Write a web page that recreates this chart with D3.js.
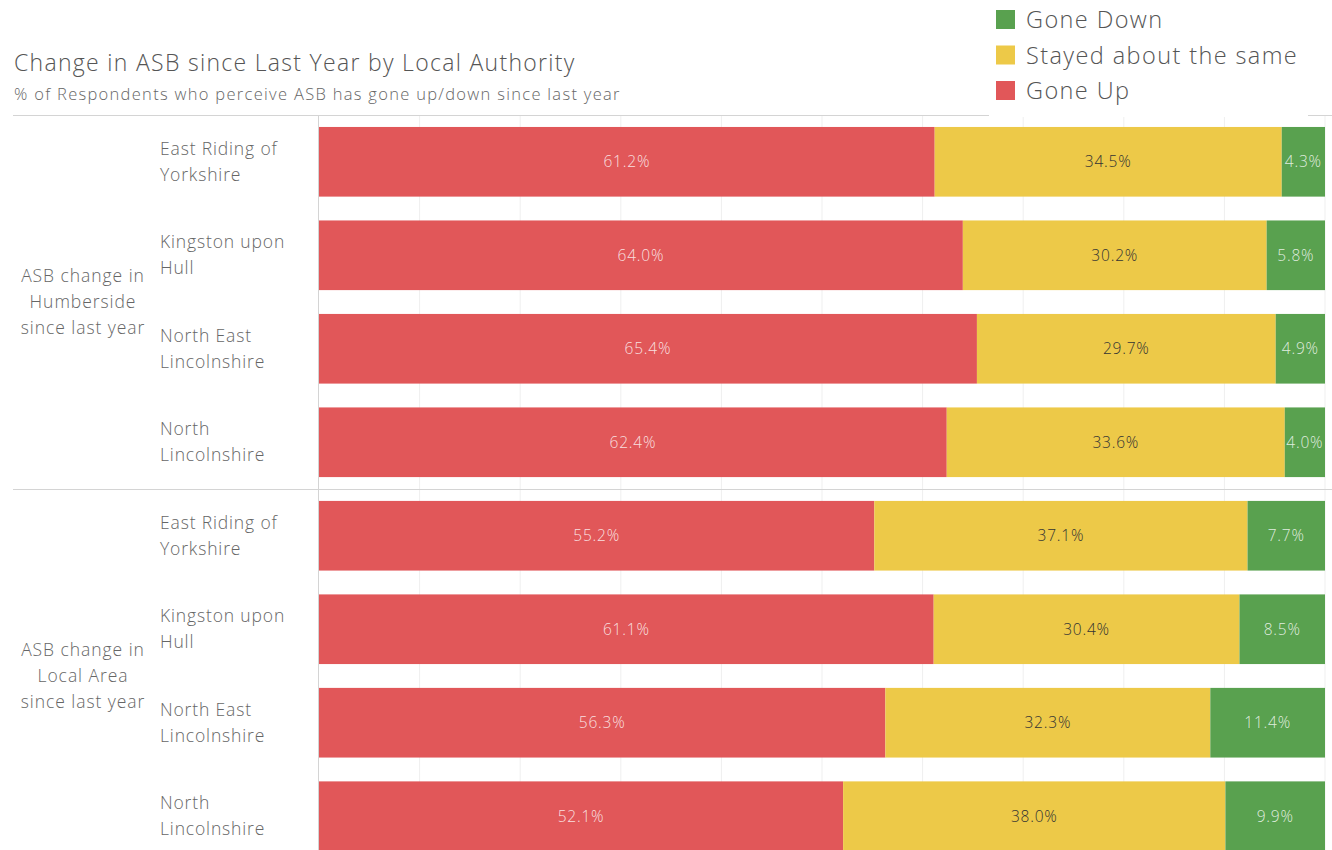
<!DOCTYPE html>
<html>
<head>
<meta charset="utf-8">
<script src="https://cdn.jsdelivr.net/npm/d3@7"></script>
<style>
  html, body { margin: 0; padding: 0; background: #fff; }
  svg { display: block; font-family: "Open Sans", Lato, sans-serif; font-weight: 300; }
</style>
</head>
<body>
<svg id="chart"></svg>
<script>
// data
const groups = ['Humberside', 'Local Area'];
const groupLabels = [
  ['ASB change in', 'Humberside', 'since last year'],
  ['ASB change in', 'Local Area', 'since last year']
];
const regions = ['East Riding of Yorkshire', 'Kingston upon Hull', 'North East Lincolnshire', 'North Lincolnshire'];
const regionLines = [
  ['East Riding of', 'Yorkshire'],
  ['Kingston upon', 'Hull'],
  ['North East', 'Lincolnshire'],
  ['North', 'Lincolnshire']
];
const series = ['Gone Up', 'Stayed about the same', 'Gone Down'];
const goneUp = [61.2, 64.0, 65.4, 62.4, 55.2, 61.1, 56.3, 52.1];
const stayed = [34.5, 30.2, 29.7, 33.6, 37.1, 30.4, 32.3, 38.0];
const goneDown = [4.3, 5.8, 4.9, 4.0, 7.7, 8.5, 11.4, 9.9];
const xTicks = [0, 10, 20, 30, 40, 50, 60, 70, 80, 90, 100];

const colors = {
  'Gone Up': '#e15759',
  'Stayed about the same': '#edc948',
  'Gone Down': '#59a14f'
};
const labelColors = {
  'Gone Up': 'rgba(255,255,255,0.82)',
  'Stayed about the same': '#333',
  'Gone Down': 'rgba(255,255,255,0.82)'
};

const width = 1332;
const height = 850;
const svg = d3.select('#chart').attr('width', width).attr('height', height);

const rows = [];
groups.forEach((g, gi) => {
  regions.forEach((r, ri) => {
    const i = gi * regions.length + ri;
    rows.push({
      key: g + '|' + r, group: g, gi, ri,
      'Gone Up': goneUp[i],
      'Stayed about the same': stayed[i],
      'Gone Down': goneDown[i]
    });
  });
});

const topY = 115;
const plotLeft = 319;
const plotRight = 1325;
const panelH = 374;

const x = d3.scaleLinear().domain([0, 100]).range([plotLeft, plotRight]);
const y = d3.scaleBand().domain(rows.map(d => d.key))
  .range([topY, topY + panelH * 2]).paddingInner(0.255).paddingOuter(0.128);

// title
svg.append('text').attr('x', 14).attr('y', 71)
  .attr('font-size', 23).attr('fill', '#555').attr('letter-spacing', 1.3)
  .text('Change in ASB since Last Year by Local Authority');
svg.append('text').attr('x', 14).attr('y', 100)
  .attr('font-size', 16.5).attr('fill', '#666').attr('letter-spacing', 1.3)
  .text('% of Respondents who perceive ASB has gone up/down since last year');

// grid
svg.append('g').selectAll('line')
  .data(xTicks.slice(1))
  .join('line')
  .attr('x1', d => x(d)).attr('x2', d => x(d))
  .attr('y1', topY).attr('y2', height)
  .attr('stroke', '#efefef').attr('stroke-width', 1);

// panel separators
svg.append('g').selectAll('line')
  .data([0, 1])
  .join('line')
  .attr('x1', 13).attr('x2', width)
  .attr('y1', d => topY + d * panelH + 0.5).attr('y2', d => topY + d * panelH + 0.5)
  .attr('stroke', '#d4d4d4');

svg.append('line')
  .attr('x1', plotLeft - 0.5).attr('x2', plotLeft - 0.5)
  .attr('y1', topY).attr('y2', height)
  .attr('stroke', '#d4d4d4');

// bars
const stack = d3.stack().keys(series);
const stacked = stack(rows);

const layer = svg.append('g').selectAll('g')
  .data(stacked)
  .join('g')
  .attr('fill', d => colors[d.key]);

layer.selectAll('rect')
  .data(d => d.map(v => ({ key: d.key, v })))
  .join('rect')
  .attr('x', d => x(d.v[0]))
  .attr('width', d => x(d.v[1]) - x(d.v[0]))
  .attr('y', d => y(d.v.data.key))
  .attr('height', y.bandwidth());

layer.selectAll('text')
  .data(d => d.map(v => ({ key: d.key, v })))
  .join('text')
  .attr('x', d => (x(d.v[0]) + x(d.v[1])) / 2)
  .attr('y', d => y(d.v.data.key) + y.bandwidth() / 2)
  .attr('dy', '0.35em')
  .attr('text-anchor', 'middle')
  .attr('font-size', 15.5)
  .attr('letter-spacing', 0.8)
  .attr('fill', d => labelColors[d.key])
  .text(d => d.v.data[d.key].toFixed(1) + '%');

// region labels
const rowLab = svg.append('g').selectAll('text')
  .data(rows)
  .join('text')
  .attr('font-size', 17.5).attr('fill', '#666').attr('letter-spacing', 0.85)
  .attr('y', d => y(d.key) + y.bandwidth() / 2);
rowLab.selectAll('tspan')
  .data(d => regionLines[d.ri].map((t, k, a) => ({ t, k, n: a.length })))
  .join('tspan')
  .attr('x', 160)
  .attr('dy', d => d.k === 0 ? ((-(d.n - 1) / 2) * 26 + 6) + 'px' : '26px')
  .text(d => d.t);

// group labels
const grpLab = svg.append('g').selectAll('text')
  .data(groupLabels)
  .join('text')
  .attr('font-size', 17.5).attr('fill', '#666').attr('letter-spacing', 0.95)
  .attr('text-anchor', 'middle')
  .attr('y', (d, i) => topY + i * panelH + panelH / 2);
grpLab.selectAll('tspan')
  .data(d => d.map((t, k, a) => ({ t, k, n: a.length })))
  .join('tspan')
  .attr('x', 83)
  .attr('dy', d => d.k === 0 ? ((-(d.n - 1) / 2) * 26 + 6) + 'px' : '26px')
  .text(d => d.t);

// legend
const legend = svg.append('g');
legend.append('rect')
  .attr('x', 989).attr('y', 0).attr('width', 319).attr('height', topY + 2)
  .attr('fill', '#fff');
const legendOrder = series.slice().reverse();
const li = legend.selectAll('g.item')
  .data(legendOrder)
  .join('g')
  .attr('class', 'item')
  .attr('transform', (d, i) => `translate(996,${20 + i * 35.5})`);
li.append('rect')
  .attr('x', 0).attr('y', -10).attr('width', 19).attr('height', 19)
  .attr('fill', d => colors[d]);
li.append('text')
  .attr('x', 30).attr('dy', '0.35em')
  .attr('font-size', 23.5).attr('fill', '#555').attr('letter-spacing', 1.4)
  .text(d => d);
</script>
</body>
</html>
